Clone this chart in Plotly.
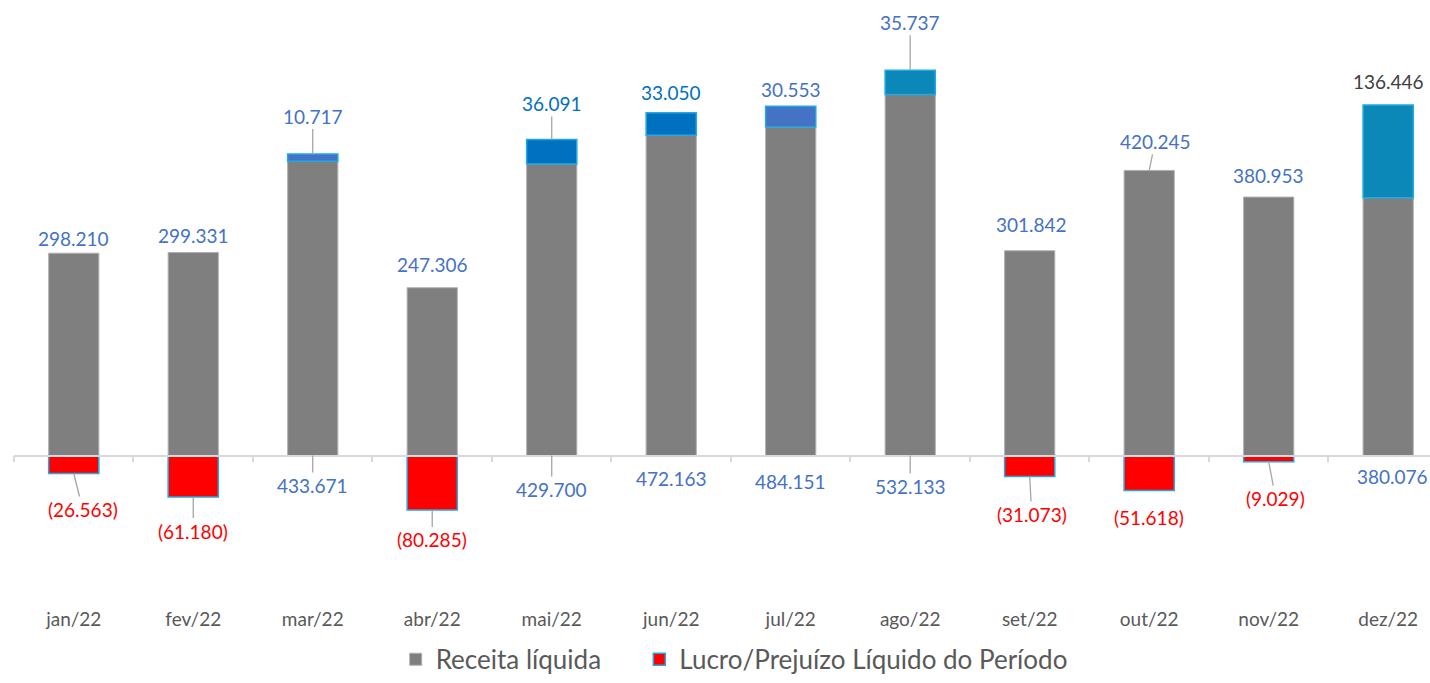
import plotly.graph_objects as go

# ---- data ----
months = ['jan/22', 'fev/22', 'mar/22', 'abr/22', 'mai/22', 'jun/22',
          'jul/22', 'ago/22', 'set/22', 'out/22', 'nov/22', 'dez/22']
receita = [298210, 299331, 433671, 247306, 429700, 472163,
           484151, 532133, 301842, 420245, 380953, 380076]
lucro = [-26563, -61180, 10717, -80285, 36091, 33050,
         30553, 35737, -31073, -51618, -9029, 136446]

# ---- styles ----
FONT = "Lato"
GRAY = "#7f7f7f"
LBL_BLUE = "#4472C4"
LBL_DBLUE = "#0070C0"
RED = "#FF0000"
profit_colors = [RED, RED, "#4472C4", RED, "#0070C0", "#0070C0",
                 "#4472C4", "#0B87B8", RED, RED, RED, "#0B87B8"]
profit_label_colors = [RED, RED, LBL_BLUE, RED, LBL_DBLUE, LBL_DBLUE,
                       LBL_BLUE, LBL_BLUE, RED, RED, RED, "#404040"]
# label offsets in pixels (dx, dy, leader line)
rev_offsets = [(0, -15, False), (0, -17, False), (0, 30, True), (0, -23, False),
               (0, 34, True), (0, 23, False), (0, 26, False), (0, 31, True),
               (2, -26, False), (6, -29, True), (0, -22, False), (4, 21, False)]
prof_offsets = [(9, 36, True), (0, 34, True), (0, -38, True), (0, 30, True),
                (0, -36, True), (0, -20, False), (0, -17, False), (0, -48, True),
                (2, 38, True), (0, 27, False), (7, 37, True), (0, -24, False)]

y_range = [-217400, 656700]
x_range = [-0.5, 11.35]
LEGEND_GAP = "\u00a0" * 5


def fmt(v):
    s = f"{abs(v):,}".replace(",", ".")
    return f"({s})" if v < 0 else s


fig = go.Figure()
fig.add_trace(go.Bar(
    x=months, y=receita, name="Receita líquida" + LEGEND_GAP,
    marker=dict(color=GRAY, line=dict(color="#b0b0b0", width=1)),
    hoverinfo="skip"))
fig.add_trace(go.Bar(
    x=months, y=lucro, name="Lucro/Prejuízo Líquido do Período",
    marker=dict(color=profit_colors, line=dict(color="#22A9E1", width=1.5)),
    hoverinfo="skip"))
# invisible trace to carry the axis drawn at zero
fig.add_trace(go.Scatter(
    x=months, y=[0] * len(months), xaxis="x2", mode="markers",
    marker=dict(opacity=0), showlegend=False, hoverinfo="skip"))

annotations = []
for i, m in enumerate(months):
    r, p = receita[i], lucro[i]
    anchor_r = 0 if p > 0 else r
    anchor_p = r + p if p > 0 else p
    for val, anchor, (dx, dy, line), color in [
        (r, anchor_r, rev_offsets[i], LBL_BLUE),
        (p, anchor_p, prof_offsets[i], profit_label_colors[i]),
    ]:
        base = dict(x=m, y=anchor, xref="x", yref="y", text=fmt(val),
                    font=dict(family=FONT, size=19, color=color))
        if line:
            base.update(showarrow=True, ax=dx, ay=dy, arrowhead=0,
                        arrowwidth=1.3, arrowcolor="#a6a6a6",
                        standoff=0, startstandoff=0)
        else:
            base.update(showarrow=False, xshift=dx, yshift=-dy,
                        xanchor="center", yanchor="middle")
        annotations.append(base)

zero_pos = (0 - y_range[0]) / (y_range[1] - y_range[0])

fig.update_layout(
    width=1430, height=683,
    margin=dict(l=14, r=0, t=10, b=78),
    paper_bgcolor="white", plot_bgcolor="white",
    barmode="relative", bargap=0.58,
    font=dict(family=FONT, color="#595959"),
    xaxis=dict(type="category", categoryorder="array", categoryarray=months,
               range=x_range, showline=False, showgrid=False, zeroline=False,
               ticks="", ticklabelstandoff=3,
               tickfont=dict(family=FONT, size=19, color="#595959")),
    xaxis2=dict(type="category", categoryorder="array", categoryarray=months,
                range=x_range, overlaying="x", anchor="free", position=zero_pos,
                showline=True, linecolor="#d9d9d9", linewidth=1.5,
                ticks="outside", tickson="boundaries", ticklen=6,
                tickcolor="#d9d9d9", tickwidth=1.5,
                showticklabels=False, showgrid=False, zeroline=False),
    yaxis=dict(range=y_range, visible=False, showgrid=False, zeroline=False),
    legend=dict(orientation="h", x=0.5086, xanchor="center",
                y=-0.095, yanchor="middle",
                font=dict(family=FONT, size=26, color="#595959"),
                itemclick=False, itemdoubleclick=False),
    annotations=annotations,
    showlegend=True,
)

fig.write_html(
    "out.html",
    config={"displayModeBar": False},
    post_script=(
        "document.documentElement.style.margin='0';"
        "document.body.style.margin='0';"
        "document.body.style.overflow='hidden';"
        "var d=document.getElementById('{plot_id}');"
        "d.style.position='fixed';d.style.left='0px';d.style.top='0px';"
    ),
)
